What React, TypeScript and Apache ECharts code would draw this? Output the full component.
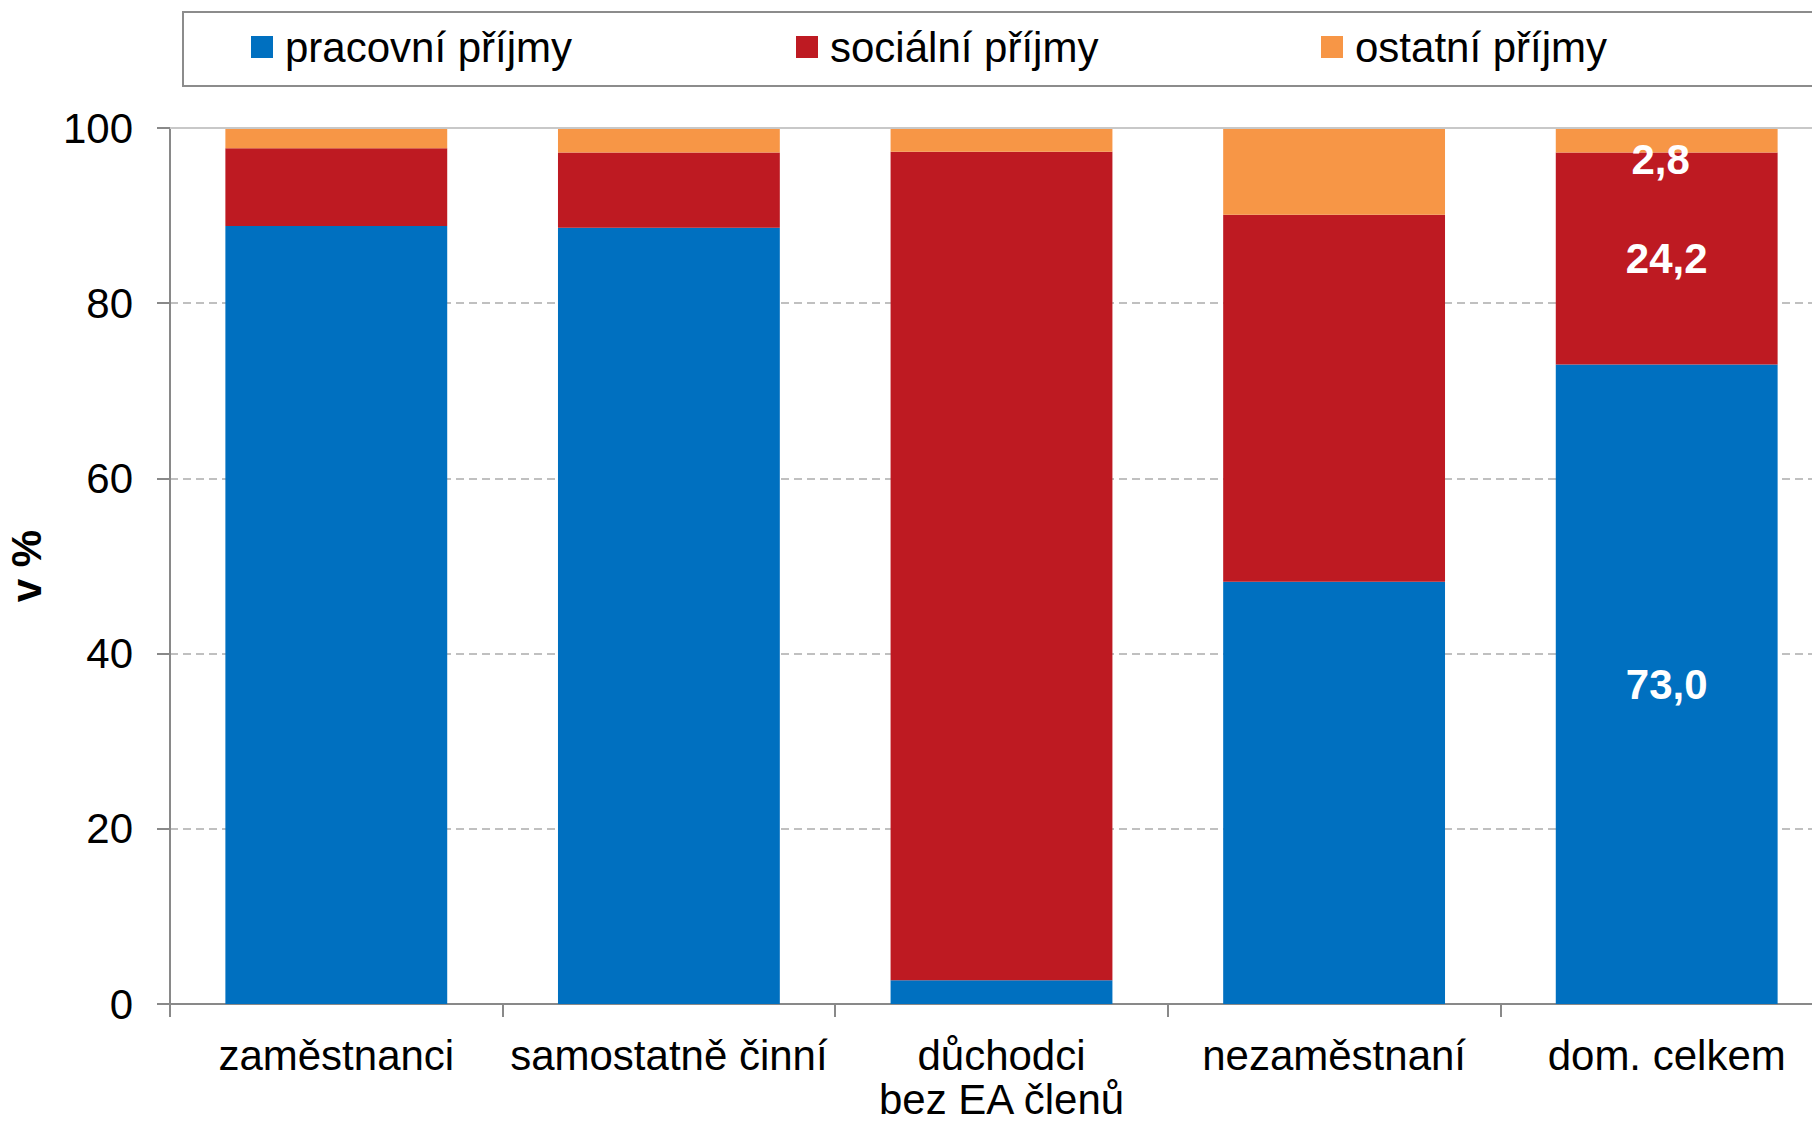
import React, { useEffect, useRef } from "react";
import * as echarts from "echarts";

const categories = ["zaměstnanci", "samostatně činní", "důchodci\nbez EA členů", "nezaměstnaní", "dom. celkem"];
const seriesNames = ["pracovní příjmy", "sociální příjmy", "ostatní příjmy"];
const pracovni = [88.8, 88.6, 2.7, 48.2, 73.0];
const socialni = [8.9, 8.6, 94.6, 41.9, 24.2];
const ostatni = [2.3, 2.8, 2.7, 9.9, 2.8];
const yTicks = [0, 20, 40, 60, 80, 100];
const labelledIndex = 4;

const colors = ["#0070C0", "#BE1A22", "#F79646"];
const FONT = "'Liberation Sans', Arial, sans-serif";

export default function App() {
  const ref = useRef<HTMLDivElement>(null);
  useEffect(() => {
    document.body.style.margin = "0";
    const chart = echarts.init(ref.current!, null, { renderer: "svg" });
    const values = [pracovni, socialni, ostatni];
    const labelOffsets = [[0, 0], [0, 0], [-6, 19]];
    const legendLefts = [246, 791, 1316];
    chart.setOption({
      animation: false,
      backgroundColor: "#ffffff",
      textStyle: { fontFamily: FONT },
      graphic: [
        {
          type: "rect",
          shape: { x: 183, y: 12, width: 1700, height: 74 },
          style: { fill: "#ffffff", stroke: "#8c8c8c", lineWidth: 2 },
          z: -1,
        },
      ],
      legend: seriesNames.map((n, i) => ({
        data: [n],
        left: legendLefts[i],
        top: 21,
        icon: "rect",
        itemWidth: 22,
        itemHeight: 22,
        textStyle: { fontSize: 42, color: "#000", fontFamily: FONT, padding: [0, 0, 0, 7] },
        selectedMode: false,
      })),
      grid: { left: 170, top: 128, width: 1663, height: 876, outerBoundsMode: "none", containLabel: false },
      xAxis: {
        type: "category",
        data: categories,
        axisLine: { lineStyle: { color: "#898989", width: 2 } },
        axisTick: { show: true, length: 13, lineStyle: { color: "#898989", width: 2 } },
        axisLabel: { fontSize: 42, color: "#000", fontFamily: FONT, margin: 29, lineHeight: 44, interval: 0 },
      },
      yAxis: {
        type: "value",
        min: 0,
        max: 100,
        interval: 20,
        name: "v %",
        nameLocation: "middle",
        nameRotate: 90,
        nameGap: 123,
        nameTextStyle: { fontSize: 42, fontWeight: "bold", color: "#000", fontFamily: FONT },
        axisLine: { show: true, lineStyle: { color: "#898989", width: 2 } },
        axisTick: { show: true, length: 13, lineStyle: { color: "#898989", width: 2 } },
        axisLabel: {
          fontSize: 42,
          color: "#000",
          fontFamily: FONT,
          margin: 37,
          formatter: (v: number) => (yTicks.includes(v) ? String(v) : ""),
        },
        splitLine: { show: true, lineStyle: { color: "#c0c0c0", width: 2, type: [8, 5] } },
      },
      series: seriesNames.map((n, i) => ({
        name: n,
        type: "bar",
        stack: "total",
        barCategoryGap: "33.3%",
        itemStyle: { color: colors[i] },
        data: values[i].map((v, j) =>
          j === labelledIndex
            ? {
                value: v,
                label: {
                  show: true,
                  position: "inside",
                  offset: labelOffsets[i],
                  color: "#fff",
                  fontWeight: "bold",
                  fontSize: 42,
                  fontFamily: FONT,
                  formatter: (p: any) => Number(p.value).toFixed(1).replace(".", ","),
                },
              }
            : v
        ),
        markLine:
          i === 2
            ? {
                silent: true,
                symbol: "none",
                label: { show: false },
                lineStyle: { color: "#c8c8c8", width: 2, type: "solid" },
                data: [{ yAxis: 100 }],
              }
            : undefined,
      })),
    });
    return () => chart.dispose();
  }, []);
  return <div ref={ref} style={{ position: "fixed", left: 0, top: 0, width: 1812, height: 1122 }} />;
}
